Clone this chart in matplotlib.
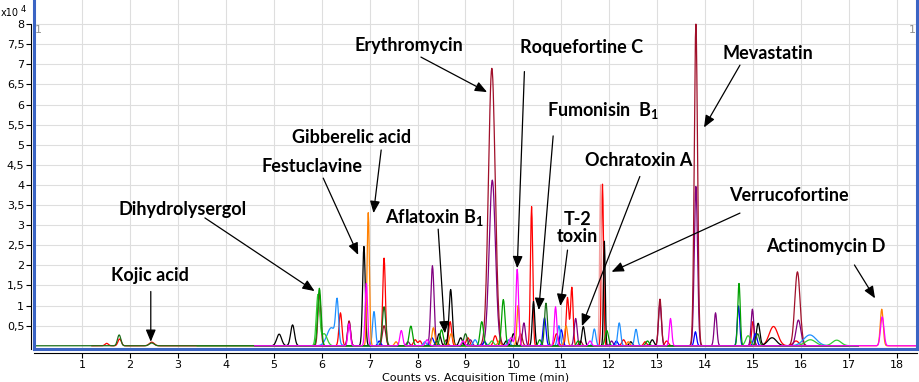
import numpy as np
import matplotlib
matplotlib.use("Agg")
import matplotlib.pyplot as plt
from matplotlib.lines import Line2D
from matplotlib.ticker import FuncFormatter

plt.rcParams['mathtext.fontset'] = 'custom'
plt.rcParams['mathtext.rm'] = 'Lato'
plt.rcParams['mathtext.bf'] = 'Lato:bold'

# peaks: (retention time [min], height [x10^4 counts], width [min])
red = [(1.51, 0.06, 0.035), (1.78, 0.17, 0.035), (2.45, 0.09, 0.05), (6.39, 0.82, 0.03),
       (7.30, 2.18, 0.028), (7.95, 0.15, 0.035), (8.68, 0.60, 0.03), (9.05, 0.20, 0.035),
       (9.62, 0.25, 0.035), (10.38, 3.46, 0.024), (10.90, 0.30, 0.035), (11.13, 1.20, 0.028),
       (11.22, 1.45, 0.026), (11.86, 4.02, 0.022), (12.30, 0.15, 0.035), (13.20, 0.12, 0.035),
       (15.00, 0.60, 0.026), (15.43, 0.48, 0.09), (15.90, 0.12, 0.06), (8.05, 0.12, 0.03),
       (12.75, 0.10, 0.03)]
lightcoral = [(11.82, 4.00, 0.02)]
purple = [(6.57, 0.60, 0.03), (8.31, 1.99, 0.034), (9.10, 0.15, 0.035), (9.56, 4.12, 0.065),
          (10.22, 0.57, 0.03), (11.30, 0.68, 0.03), (13.06, 1.05, 0.03), (13.81, 3.96, 0.034),
          (14.22, 0.82, 0.028), (14.99, 0.91, 0.028), (15.95, 0.64, 0.05), (7.80, 0.10, 0.03),
          (12.05, 0.12, 0.03)]
darkred = [(5.95, 1.30, 0.03), (6.57, 0.62, 0.03), (7.30, 0.50, 0.035), (9.55, 6.90, 0.07),
           (10.15, 0.30, 0.035), (13.06, 1.16, 0.03), (13.81, 8.00, 0.034), (15.93, 1.84, 0.055),
           (8.60, 0.15, 0.03), (11.40, 0.12, 0.03)]
black = [(5.11, 0.29, 0.05), (5.39, 0.52, 0.04), (6.88, 2.47, 0.028), (8.45, 0.30, 0.035),
         (8.69, 1.40, 0.034), (8.90, 0.20, 0.035), (10.00, 0.30, 0.035), (10.42, 1.10, 0.026),
         (11.46, 0.48, 0.03), (11.90, 2.60, 0.018), (12.90, 0.15, 0.035), (15.11, 0.56, 0.036),
         (15.40, 0.20, 0.09), (9.85, 0.12, 0.03), (12.45, 0.10, 0.03)]
blue = [(8.30, 0.20, 0.035), (10.65, 0.70, 0.03), (11.00, 0.40, 0.03), (13.80, 0.35, 0.026),
        (14.70, 0.99, 0.026), (15.05, 0.30, 0.035), (7.20, 0.12, 0.03), (9.40, 0.10, 0.03),
        (12.15, 0.12, 0.03)]
dodgerblue = [(6.20, 0.45, 0.09), (6.32, 1.00, 0.03), (7.09, 0.85, 0.03), (9.20, 0.15, 0.035),
              (10.95, 0.50, 0.03), (11.69, 0.42, 0.03), (12.21, 0.57, 0.03),
              (12.56, 0.41, 0.03), (16.19, 0.27, 0.13), (8.15, 0.10, 0.03), (9.90, 0.15, 0.03)]
orange = [(6.97, 3.31, 0.025), (8.33, 0.45, 0.03), (8.70, 0.30, 0.035), (10.10, 1.00, 0.026),
          (11.10, 0.50, 0.03), (17.69, 0.91, 0.03), (7.55, 0.10, 0.03), (9.70, 0.12, 0.03),
          (12.40, 0.10, 0.03)]
magenta = [(6.57, 0.55, 0.026), (6.93, 1.55, 0.026), (7.66, 0.38, 0.03), (8.20, 0.15, 0.035),
           (9.95, 0.20, 0.035), (10.08, 1.90, 0.028), (10.88, 0.97, 0.026), (13.28, 0.68, 0.026),
           (17.70, 0.72, 0.035), (8.95, 0.12, 0.03), (11.60, 0.12, 0.03)]
lime = [(5.92, 1.25, 0.035), (6.05, 0.30, 0.06), (14.90, 0.25, 0.05), (16.20, 0.15, 0.11),
        (16.75, 0.14, 0.09), (9.55, 0.12, 0.04)]
green = [(5.95, 1.43, 0.035), (7.86, 0.49, 0.035), (8.50, 0.40, 0.035), (9.34, 0.60, 0.035),
         (9.79, 1.15, 0.035), (11.95, 0.38, 0.035), (12.80, 0.12, 0.035), (14.71, 1.55, 0.026),
         (10.55, 0.15, 0.03), (11.35, 0.12, 0.03)]
darkgreen = [(1.77, 0.27, 0.035), (2.45, 0.07, 0.05), (7.30, 0.97, 0.035), (9.00, 0.30, 0.035),
             (10.68, 1.06, 0.03), (15.10, 0.30, 0.035), (8.40, 0.12, 0.03)]

# (peaks, colour, first and last minute recorded)
traces = [(red, '#ff0000', 1.2, 17.2), (lightcoral, '#f4a0a0', 4.6, 17.2),
          (purple, '#800080', 4.6, 17.2), (darkred, '#a0102a', 4.6, 17.2),
          (black, '#000000', 4.6, 17.2), (blue, '#0000ff', 4.6, 17.2),
          (dodgerblue, '#1e90ff', 4.6, 17.2), (orange, '#ff8000', 4.6, 18.43),
          (lime, '#33cc33', 3.4, 17.1), (green, '#00a000', 4.6, 17.2),
          (darkgreen, '#1a6e1a', 0.0, 17.0), (magenta, '#ff00ff', 4.6, 18.43)]

x_ticks = list(range(1, 19))
y_ticks = [0.5 * i for i in range(1, 17)]

# compound labels: text centre, arrow tail, arrow head (data coordinates)
labels = [("Kojic acid", (2.42, 1.76), (2.43, 1.35), (2.43, 0.10)),
          ("Dihydrolysergol", (3.10, 3.38), (3.56, 3.18), (5.85, 1.36)),
          ("Festuclavine", (5.80, 4.45), (6.03, 4.17), (6.76, 2.26)),
          ("Gibberelic acid", (6.63, 5.17), (7.24, 4.87), (7.08, 3.30)),
          ("Aflatoxin B$_\\mathbf{1}$", (8.34, 3.18), (8.43, 2.90), (8.57, 0.31)),
          ("Erythromycin", (7.82, 7.48), (8.07, 7.18), (9.45, 6.31)),
          ("Roquefortine C", (11.43, 7.43), (10.23, 6.82), (10.08, 1.93)),
          ("Fumonisin  B$_\\mathbf{1}$", (11.87, 5.84), (10.83, 5.22), (10.53, 0.89)),
          ("Mevastatin", (15.31, 7.28), (14.73, 6.98), (13.98, 5.43)),
          ("Ochratoxin A", (12.62, 4.62), (12.64, 4.21), (11.43, 0.49)),
          ("Verrucofortine", (15.75, 3.73), (14.73, 3.30), (12.05, 1.84)),
          ("T-2\ntoxin", (11.34, 2.92), (11.13, 2.38), (10.98, 0.99)),
          ("Actinomycin D", (16.53, 2.46), (17.12, 2.01), (17.55, 1.18))]

time = np.arange(0, 18.44, 0.01)


def chromatogram(peaks, start, end):
    y = np.zeros_like(time)
    for rt, h, w in peaks:
        y += h * np.exp(-0.5 * ((time - rt) / w) ** 2)
    y[(time < start) | (time > end)] = np.nan
    return y


fig = plt.figure(figsize=(9.2, 3.82), dpi=100)
ax = fig.add_axes([34 / 920, 33 / 382, 883 / 920, 349 / 382])

for peaks, colour, start, end in traces:
    ax.plot(time, chromatogram(peaks, start, end), color=colour, lw=0.9)

ax.set_xlim(-0.008, 18.426)
ax.set_ylim(-0.08, 8.60)
ax.set_xticks(x_ticks)
ax.set_yticks(y_ticks)
ax.yaxis.set_major_formatter(FuncFormatter(lambda v, p: ('%g' % v).replace('.', ',')))
ax.grid(color='#dedede', lw=0.8)
ax.set_axisbelow(True)

for s in ['top', 'right']:
    ax.spines[s].set_visible(False)
ax.spines['left'].set_position(('outward', 2))
ax.spines['left'].set_bounds(-0.08, 8)
ax.spines['bottom'].set_position(('outward', 3))
for s in ['left', 'bottom']:
    ax.spines[s].set_linewidth(0.8)
ax.tick_params(direction='out', length=3.5, width=0.8, labelsize=8, pad=1.5)

# blue plot-area frame
frame_blue = '#3b64c4'
for xs, ys in [((0, 0), (0, 1)), ((0, 1), (0, 0)), ((1, 1), (0, 1))]:
    ax.add_line(Line2D(xs, ys, transform=ax.transAxes, color=frame_blue, lw=2.2,
                       clip_on=False, zorder=5))

ax.set_xlabel("Counts vs. Acquisition Time (min)", fontsize=8, labelpad=2)

for text, txy, tail, head in labels:
    ax.text(txy[0], txy[1], text, ha='center', va='center', fontsize=13,
            fontweight='bold', family='Lato', linespacing=1.0, zorder=6)
    ax.annotate('', xy=head, xytext=tail,
                arrowprops=dict(arrowstyle='-|>,head_length=0.6,head_width=0.25',
                                color='black', lw=0.9, mutation_scale=12,
                                shrinkA=0, shrinkB=0), zorder=6)

fig.text(38 / 920, 1 - 30 / 382, '1', color='#909090', fontsize=8, ha='center', va='center')
fig.text(912 / 920, 1 - 30 / 382, '1', color='#909090', fontsize=8, ha='center', va='center')
fig.text(1 / 920, 1 - 13 / 382, 'x10', fontsize=7, ha='left', va='center')
fig.text(21 / 920, 1 - 9 / 382, '4', fontsize=6, ha='left', va='center')

fig.savefig('out.png', dpi=100)
